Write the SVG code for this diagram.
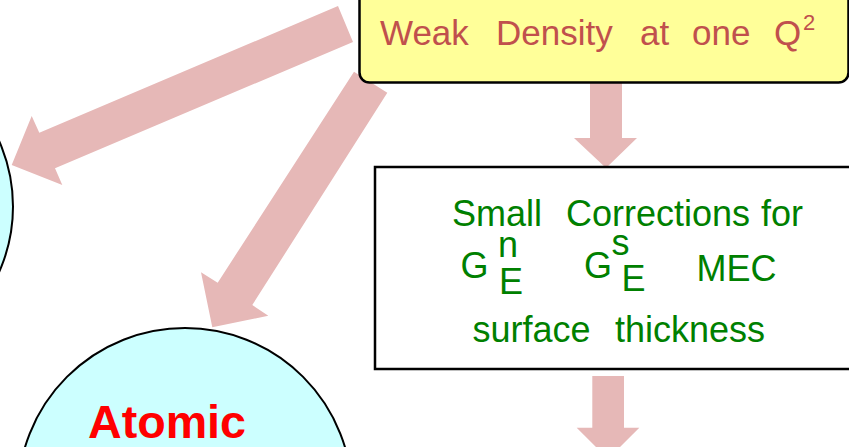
<svg xmlns="http://www.w3.org/2000/svg" width="849" height="447" viewBox="0 0 849 447">
<style>
.arrow{fill:#E6B8B7;stroke:none}
.circ{fill:#CCFFFF;stroke:#000;stroke-width:2}
.box{stroke:#000;stroke-width:2.5}
.g{font-family:"Liberation Sans",Arial,sans-serif;fill:#008000;font-size:36px}
.w{font-family:"Liberation Sans",Arial,sans-serif;fill:#C0504D;font-size:35px}
.sup{font-family:"Liberation Sans",Arial,sans-serif;fill:#C0504D;font-size:22px}
</style>
<rect width="849" height="447" fill="#FFFFFF"/>
<g id="connectors">
<polygon class="arrow" points="338,6 353,42 55,168.3 62.3,185 11.7,165 31.7,116 39.3,132.7"/>
<polygon class="arrow" points="354,71.7 387.3,92.7 252.3,305 268.3,315.7 212.3,327.3 201,272.3 217.7,282.7"/>
<polygon class="arrow" points="590,82 622,82 622,138 637,138 606,168 574,138 590,138"/>
<polygon class="arrow" points="592.3,376 624,376 624,427.7 639.3,427.7 608,459 576.7,427.7 592.3,427.7"/>
</g>
<g id="node-left">
<circle class="circ" cx="-148.5" cy="206.5" r="161.5"/>
</g>
<g id="node-atomic">
<circle class="circ" cx="185" cy="495" r="167"/>
<text x="88" y="438" font-family="'Liberation Sans',Arial,sans-serif" font-weight="bold" font-size="47" fill="#FF0000" textLength="158" lengthAdjust="spacingAndGlyphs">Atomic</text>
</g>
<g id="node-weak">
<rect class="box" x="359.5" y="-20" width="489" height="102.5" rx="10" fill="#FFFF99"/>
<text class="w" y="45"><tspan x="380">Weak</tspan><tspan x="496">Density</tspan><tspan x="640">at</tspan><tspan x="692">one</tspan><tspan x="774">Q</tspan></text>
<text class="sup" x="803" y="30">2</text>
</g>
<g id="node-corrections">
<rect class="box" x="375" y="167" width="490" height="202" fill="#FFFFFF"/>
<text class="g" y="226"><tspan x="452">Small</tspan><tspan x="566">Corrections</tspan><tspan x="761">for</tspan></text>
<text class="g" x="460.5" y="278">G</text>
<text class="g" x="498" y="256.5">n</text>
<text class="g" x="499" y="294">E</text>
<text class="g" x="584" y="278">G</text>
<text class="g" x="611.5" y="255">s</text>
<text class="g" x="621.5" y="290.5">E</text>
<text class="g" x="696.5" y="280.5">MEC</text>
<text class="g" y="341.5"><tspan x="472.5">surface</tspan><tspan x="615">thickness</tspan></text>
</g>
</svg>
